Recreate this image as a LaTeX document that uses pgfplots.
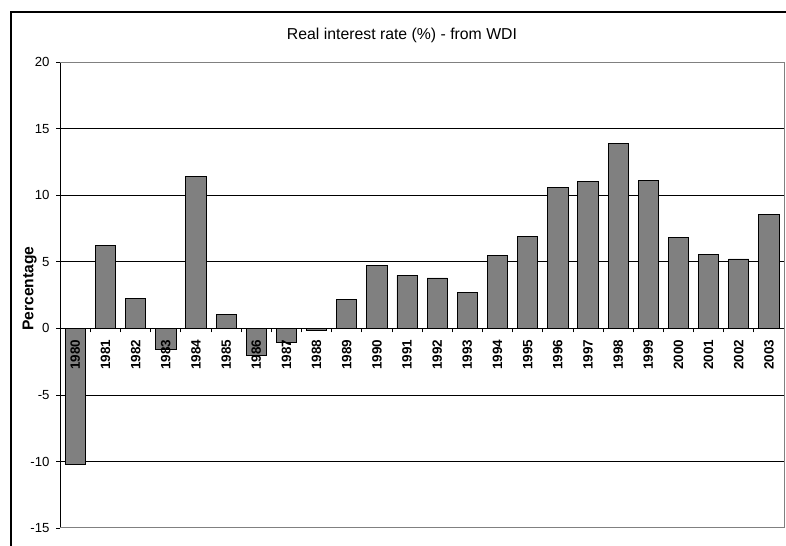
\documentclass[border=0pt]{standalone}
\usepackage{pgfplots}
\pgfplotsset{compat=1.18}
\usepackage{fontspec}
\setmainfont{Liberation Sans}
\definecolor{barfill}{HTML}{808080}
\definecolor{frameline}{HTML}{808080}

\pgfplotstableread{
idx year rate
0  1980 -10.22
1  1981 6.25
2  1982 2.26
3  1983 -1.56
4  1984 11.42
5  1985 1.08
6  1986 -2.03
7  1987 -1.05
8  1988 -0.18
9  1989 2.18
10 1990 4.71
11 1991 3.99
12 1992 3.79
13 1993 2.71
14 1994 5.47
15 1995 6.93
16 1996 10.59
17 1997 11.02
18 1998 13.88
19 1999 11.14
20 2000 6.85
21 2001 5.54
22 2002 5.22
23 2003 8.53
}\ratetable

\pgfplotsset{chartbox/.style={
  at={(45.2pt,13.5pt)}, anchor=south west,
  scale only axis,
  width=542.8pt, height=349.3pt,
  xmin=-0.5, xmax=23.5,
  ymin=-15, ymax=20,
}}

\begin{document}
\begin{tikzpicture}
\useasboundingbox (0,0) rectangle (589.5pt,409.5pt);
% chart area frame (cropped on the right and bottom)
\draw[line width=1.5pt] (8.5pt,-10pt) -- (8.5pt,400.4pt) -- (600pt,400.4pt);
\node[anchor=base, font=\fontsize{11.85}{14}\selectfont] at (301.5pt,379.5pt)
  {Real interest rate (\%) - from WDI};
\node[anchor=base, rotate=90, font=\fontsize{11.7}{14}\selectfont\bfseries] at (25pt,193pt)
  {Percentage};
\begin{axis}[
  chartbox,
  axis x line=middle, axis y line=left,
  axis line style={-, black, line width=0.6pt},
  ytick={-15,-10,...,20},
  yticklabels={-15,-10,-5,0,5,10,15,20},
  yticklabel style={font=\fontsize{9.9}{12}\selectfont, xshift=-1.5pt},
  xtick={-0.5,0.5,...,23.5},
  xticklabels={},
  extra y ticks={-10,-5,5,10,15},
  extra y tick labels={},
  extra y tick style={grid=major, major tick length=0pt},
  major grid style={black, line width=0.6pt},
  tick align=outside,
  major tick length=3pt,
  tick style={black, line width=0.6pt},
  clip=false,
]
\addplot[ybar, bar width=0.67, fill=barfill, draw=black, line width=0.6pt]
  table[x=idx, y=rate] {\ratetable};
\draw[frameline, line width=0.75pt] (rel axis cs:0,1) -- (rel axis cs:1,1)
  -- (rel axis cs:1,0) -- (rel axis cs:0,0);
\end{axis}
% year labels laid over the bars
\begin{axis}[
  chartbox,
  axis x line=middle, axis y line=none,
  x axis line style={draw=none},
  ytick=\empty,
  xtick={0,1,...,23},
  xticklabels={1980,1981,1982,1983,1984,1985,1986,1987,1988,1989,1990,1991,1992,1993,1994,1995,1996,1997,1998,1999,2000,2001,2002,2003},
  major tick length=0pt,
  xticklabel style={rotate=90, anchor=east, xshift=-5pt,
    font=\fontsize{10.1}{12}\selectfont\bfseries},
]
\end{axis}
\end{tikzpicture}
\end{document}
